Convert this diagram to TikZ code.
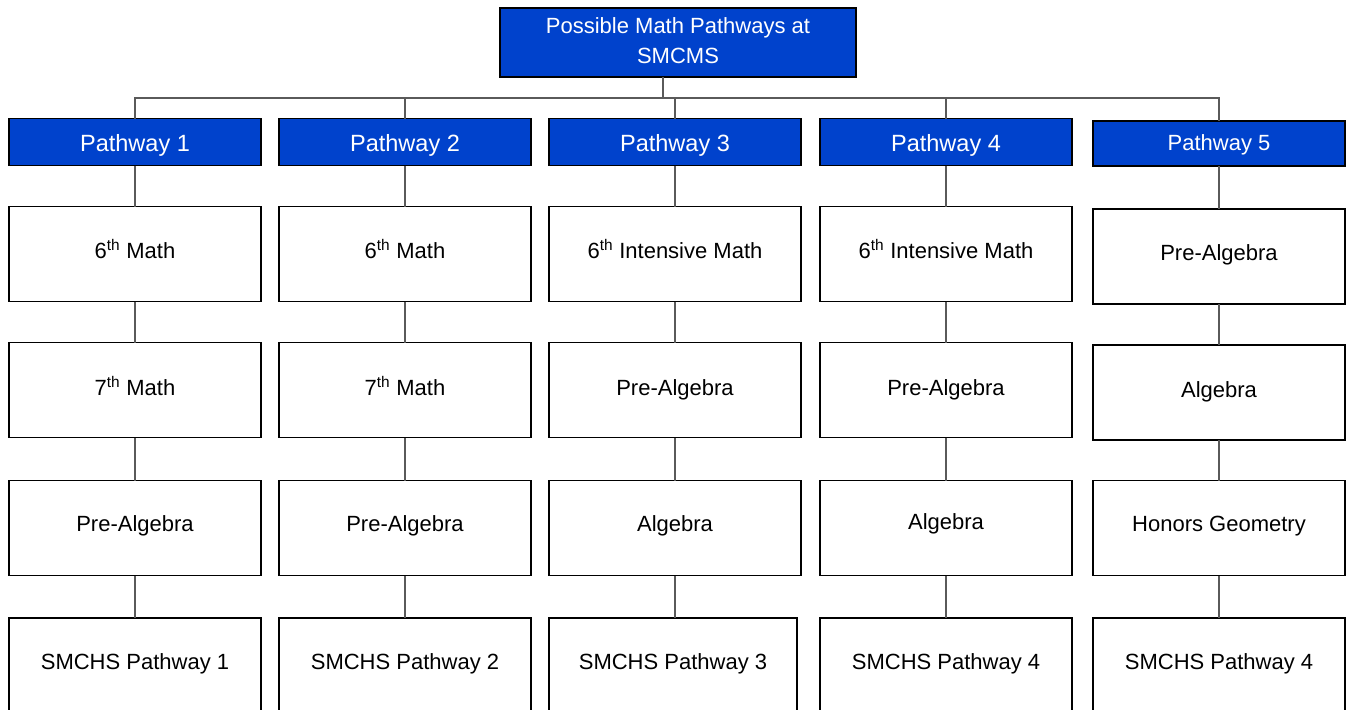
\documentclass[tikz,border=0pt]{standalone}
\usepackage{fontspec}
\setmainfont{Liberation Sans}
\definecolor{hdrblue}{RGB}{0,66,204}
\definecolor{linegray}{RGB}{90,90,90}
\begin{document}
\begin{tikzpicture}[x=1pt,y=-1pt,
  topbox/.style={draw=black,line width=1.8pt,fill=hdrblue,text=white,minimum width=356pt,minimum height=69pt,inner sep=0pt,outer sep=0pt,align=center,font=\fontsize{22}{30}\selectfont},
  hdrbox/.style={draw=black,line width=1.8pt,fill=hdrblue,text=white,minimum width=252pt,minimum height=47pt,inner sep=0pt,outer sep=0pt,text height=17pt,text depth=0pt,font=\fontsize{23.5}{28}\selectfont},
  stepbox/.style={draw=black,line width=1.8pt,fill=white,text=black,minimum width=252pt,minimum height=95pt,inner sep=0pt,outer sep=0pt,text height=16pt,text depth=0pt,font=\fontsize{22}{26}\selectfont},
  conn/.style={draw=linegray,line width=1.6pt}]
\clip (0,0) rectangle (1351,709);
\fill[white] (0,0) rectangle (1351,709);
\coordinate (bus) at (0,98);
% top
\node[topbox] (top) at (678,42.5) {\raisebox{3pt}{\begin{tabular}{@{}c@{}}Possible Math Pathways at\\SMCMS\end{tabular}}};
\coordinate (topfoot) at ([xshift=-15pt]top.south);
% headers
\node[hdrbox] (h1) at (135,142) {\raisebox{-1pt}{Pathway 1}};
\node[hdrbox] (h2) at (405,142) {\raisebox{-1pt}{Pathway 2}};
\node[hdrbox] (h3) at (675,142) {\raisebox{-1pt}{Pathway 3}};
\node[hdrbox] (h4) at (946,142) {\raisebox{-1pt}{Pathway 4}};
\node[hdrbox,minimum height=45pt,font=\fontsize{22}{26}\selectfont] (h5) at (1219,143.5) {\raisebox{2pt}{Pathway 5}};
% row 1
\node[stepbox] (a1) at (135,254) {\raisebox{4pt}{6\textsuperscript{th} Math}};
\node[stepbox] (a2) at (405,254) {\raisebox{4pt}{6\textsuperscript{th} Math}};
\node[stepbox] (a3) at (675,254) {\raisebox{4pt}{6\textsuperscript{th} Intensive Math}};
\node[stepbox] (a4) at (946,254) {\raisebox{4pt}{6\textsuperscript{th} Intensive Math}};
\node[stepbox] (a5) at (1219,256.5) {\raisebox{4pt}{Pre-Algebra}};
% row 2
\node[stepbox] (b1) at (135,390) {\raisebox{3pt}{7\textsuperscript{th} Math}};
\node[stepbox] (b2) at (405,390) {\raisebox{3pt}{7\textsuperscript{th} Math}};
\node[stepbox] (b3) at (675,390) {\raisebox{3pt}{Pre-Algebra}};
\node[stepbox] (b4) at (946,390) {\raisebox{3pt}{Pre-Algebra}};
\node[stepbox] (b5) at (1219,392.5) {\raisebox{3pt}{Algebra}};
% row 3
\node[stepbox] (c1) at (135,528) {\raisebox{5pt}{Pre-Algebra}};
\node[stepbox] (c2) at (405,528) {\raisebox{5pt}{Pre-Algebra}};
\node[stepbox] (c3) at (675,528) {\raisebox{5pt}{Algebra}};
\node[stepbox] (c4) at (946,528) {\raisebox{7pt}{Algebra}};
\node[stepbox] (c5) at (1219,528) {\raisebox{5pt}{Honors Geometry}};
% row 4 (cut by the lower edge)
\node[stepbox,minimum height=120pt] (d1) at (135,678) {\raisebox{17pt}{SMCHS Pathway 1}};
\node[stepbox,minimum height=120pt] (d2) at (405,678) {\raisebox{17pt}{SMCHS Pathway 2}};
\node[stepbox,minimum height=120pt,minimum width=248pt] (d3) at (673,678) {\raisebox{17pt}{SMCHS Pathway 3}};
\node[stepbox,minimum height=120pt] (d4) at (946,678) {\raisebox{17pt}{SMCHS Pathway 4}};
\node[stepbox,minimum height=120pt] (d5) at (1219,678) {\raisebox{17pt}{SMCHS Pathway 4}};
% connectors
\draw[conn] (topfoot) -- (topfoot |- bus);
\draw[conn] (h1.north) -- (h1.north |- bus) -- (h5.north |- bus) -- (h5.north);
\foreach \i in {2,3,4}{\draw[conn] (h\i.north) -- (h\i.north |- bus);}
\foreach \i in {1,...,5}{
  \draw[conn] (h\i.south) -- (a\i.north);
  \draw[conn] (a\i.south) -- (b\i.north);
  \draw[conn] (b\i.south) -- (c\i.north);
  \draw[conn] (c\i.south) -- (c\i.south |- d\i.north);
}
\end{tikzpicture}
\end{document}
